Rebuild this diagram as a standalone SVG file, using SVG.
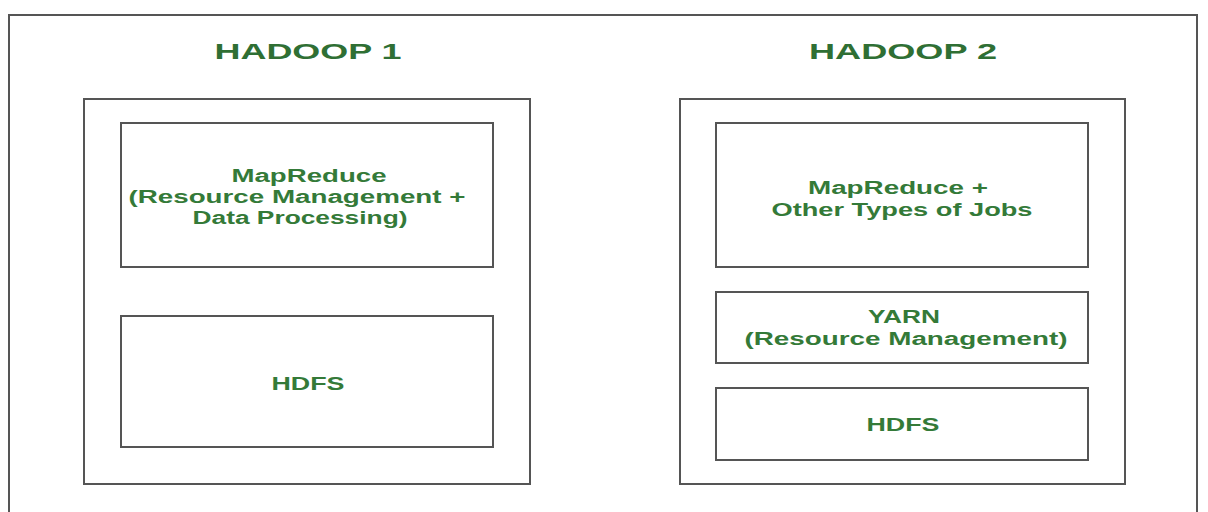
<svg xmlns="http://www.w3.org/2000/svg" width="1208" height="512" viewBox="0 0 1208 512">
<style>
.box{fill:#fff;stroke:#555;stroke-width:2}
.title{font-family:"Liberation Sans",Arial,sans-serif;font-weight:bold;font-size:22px;fill:#2f6f34;text-anchor:middle}
.lbl{font-family:"Liberation Sans",Arial,sans-serif;font-weight:bold;font-size:18px;fill:#347a38;text-anchor:middle}
</style>
<rect width="1208" height="512" fill="#fff"/>
<g id="frame"><path d="M9,520 L9,15 L1197,15 L1197,520" fill="none" stroke="#555" stroke-width="2"/></g>
<g id="hadoop1">
<text class="title" x="308" y="59" textLength="187" lengthAdjust="spacingAndGlyphs">HADOOP 1</text>
<rect class="box" x="84" y="99" width="446" height="385"/>
</g>
<g id="h1-mapreduce">
<rect class="box" x="121" y="123" width="372" height="144"/>
<text class="lbl" x="309" y="182" textLength="155" lengthAdjust="spacingAndGlyphs">MapReduce</text>
<text class="lbl" x="297" y="203" textLength="337" lengthAdjust="spacingAndGlyphs">(Resource Management +</text>
<text class="lbl" x="300" y="224" textLength="215" lengthAdjust="spacingAndGlyphs">Data Processing)</text>
</g>
<g id="h1-hdfs">
<rect class="box" x="121" y="316" width="372" height="131"/>
<text class="lbl" x="308" y="390" textLength="73" lengthAdjust="spacingAndGlyphs">HDFS</text>
</g>
<g id="hadoop2">
<text class="title" x="903" y="59" textLength="188" lengthAdjust="spacingAndGlyphs">HADOOP 2</text>
<rect class="box" x="680" y="99" width="445" height="385"/>
</g>
<g id="h2-mapreduce">
<rect class="box" x="716" y="123" width="372" height="144"/>
<text class="lbl" x="898" y="194" textLength="180" lengthAdjust="spacingAndGlyphs">MapReduce +</text>
<text class="lbl" x="902" y="216" textLength="261" lengthAdjust="spacingAndGlyphs">Other Types of Jobs</text>
</g>
<g id="h2-yarn">
<rect class="box" x="716" y="292" width="372" height="71"/>
<text class="lbl" x="904" y="323" textLength="72" lengthAdjust="spacingAndGlyphs">YARN</text>
<text class="lbl" x="906" y="345" textLength="323" lengthAdjust="spacingAndGlyphs">(Resource Management)</text>
</g>
<g id="h2-hdfs">
<rect class="box" x="716" y="388" width="372" height="72"/>
<text class="lbl" x="903" y="431" textLength="73" lengthAdjust="spacingAndGlyphs">HDFS</text>
</g>
<g id="connectors"></g>
</svg>
